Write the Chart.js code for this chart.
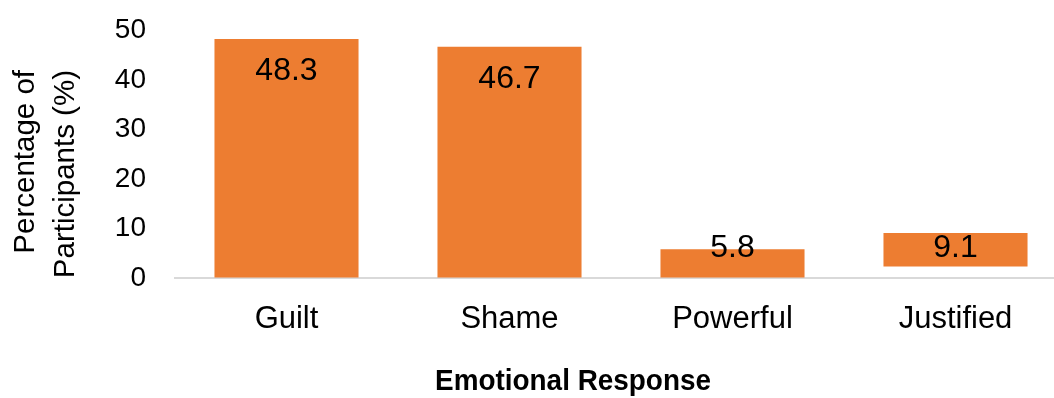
<!DOCTYPE html>
<html>
<head>
<meta charset="utf-8">
<script src="https://cdn.jsdelivr.net/npm/chart.js@4/dist/chart.umd.min.js"></script>
<style>
  html, body { margin: 0; padding: 0; background: #fff; overflow: hidden; }
</style>
</head>
<body>
<canvas id="emotions" width="1080" height="398"></canvas>
<script>
const categories = ['Guilt', 'Shame', 'Powerful', 'Justified'];
const percentages = [48.3, 46.7, 5.8, 9.1];
const barBases = [0, 0, 0, 2.3];
const yTicks = [0, 10, 20, 30, 40, 50];
const xTitle = 'Emotional Response';
const yTitle = ['Percentage of', 'Participants (%)'];

const FONT = '"Liberation Sans", Arial, sans-serif';

// value printed inside each bar, pulled up off the axis for short bars
const valueLabels = {
  id: 'valueLabels',
  afterDatasetsDraw(chart) {
    const { ctx, scales: { y } } = chart;
    const floor = y.getPixelForValue(0) - 30;
    ctx.save();
    ctx.font = '32px ' + FONT;
    ctx.fillStyle = '#000';
    ctx.textAlign = 'center';
    ctx.textBaseline = 'middle';
    chart.getDatasetMeta(0).data.forEach((bar, i) => {
      ctx.fillText(percentages[i].toFixed(1), bar.x, Math.min(bar.y + 32, floor));
    });
    ctx.restore();
  }
};

// axis titles
const axisTitles = {
  id: 'axisTitles',
  afterDraw(chart) {
    const { ctx } = chart;
    ctx.save();
    ctx.fillStyle = '#000';
    // condensed bold for the category axis title
    ctx.save();
    ctx.translate(573, 382);
    ctx.scale(0.93, 1);
    ctx.font = 'bold 30px ' + FONT;
    ctx.textAlign = 'center';
    ctx.textBaseline = 'middle';
    ctx.fillText(xTitle, 0, 0);
    ctx.restore();

    ctx.font = '29.5px ' + FONT;
    ctx.textAlign = 'right';
    ctx.textBaseline = 'alphabetic';
    ctx.translate(0, 70);
    ctx.rotate(-Math.PI / 2);
    ctx.fillText(yTitle[0], 0, 34);
    ctx.fillText(yTitle[1], 0, 74);
    ctx.restore();
  }
};

new Chart(document.getElementById('emotions'), {
  type: 'bar',
  data: {
    labels: categories,
    datasets: [{
      data: percentages.map((v, i) => [barBases[i], v]),
      backgroundColor: '#ED7D31',
      borderWidth: 0,
      barPercentage: 0.646,
      categoryPercentage: 1
    }]
  },
  options: {
    responsive: false,
    animation: false,
    layout: { padding: { top: 30.5, right: 13, left: 0, bottom: 0 } },
    plugins: {
      legend: { display: false },
      tooltip: { enabled: false }
    },
    scales: {
      x: {
        grid: { display: false },
        border: { display: true, color: '#D9D9D9', width: 2 },
        ticks: { color: '#000', font: { family: FONT, size: 31 }, padding: 15 },
        afterFit: (scale) => { scale.height = 120; }
      },
      y: {
        min: 0,
        max: 50,
        // invisible tick marks keep the labels off the plot without padding the top
        grid: { color: 'transparent', drawOnChartArea: false, drawTicks: true, tickLength: 29 },
        border: { display: false },
        afterBuildTicks: (scale) => { scale.ticks = yTicks.map(v => ({ value: v })); },
        ticks: { color: '#000', font: { family: FONT, size: 28 }, padding: 0 },
        afterFit: (scale) => { scale.width = 175; }
      }
    }
  },
  plugins: [valueLabels, axisTitles]
});
</script>
</body>
</html>
